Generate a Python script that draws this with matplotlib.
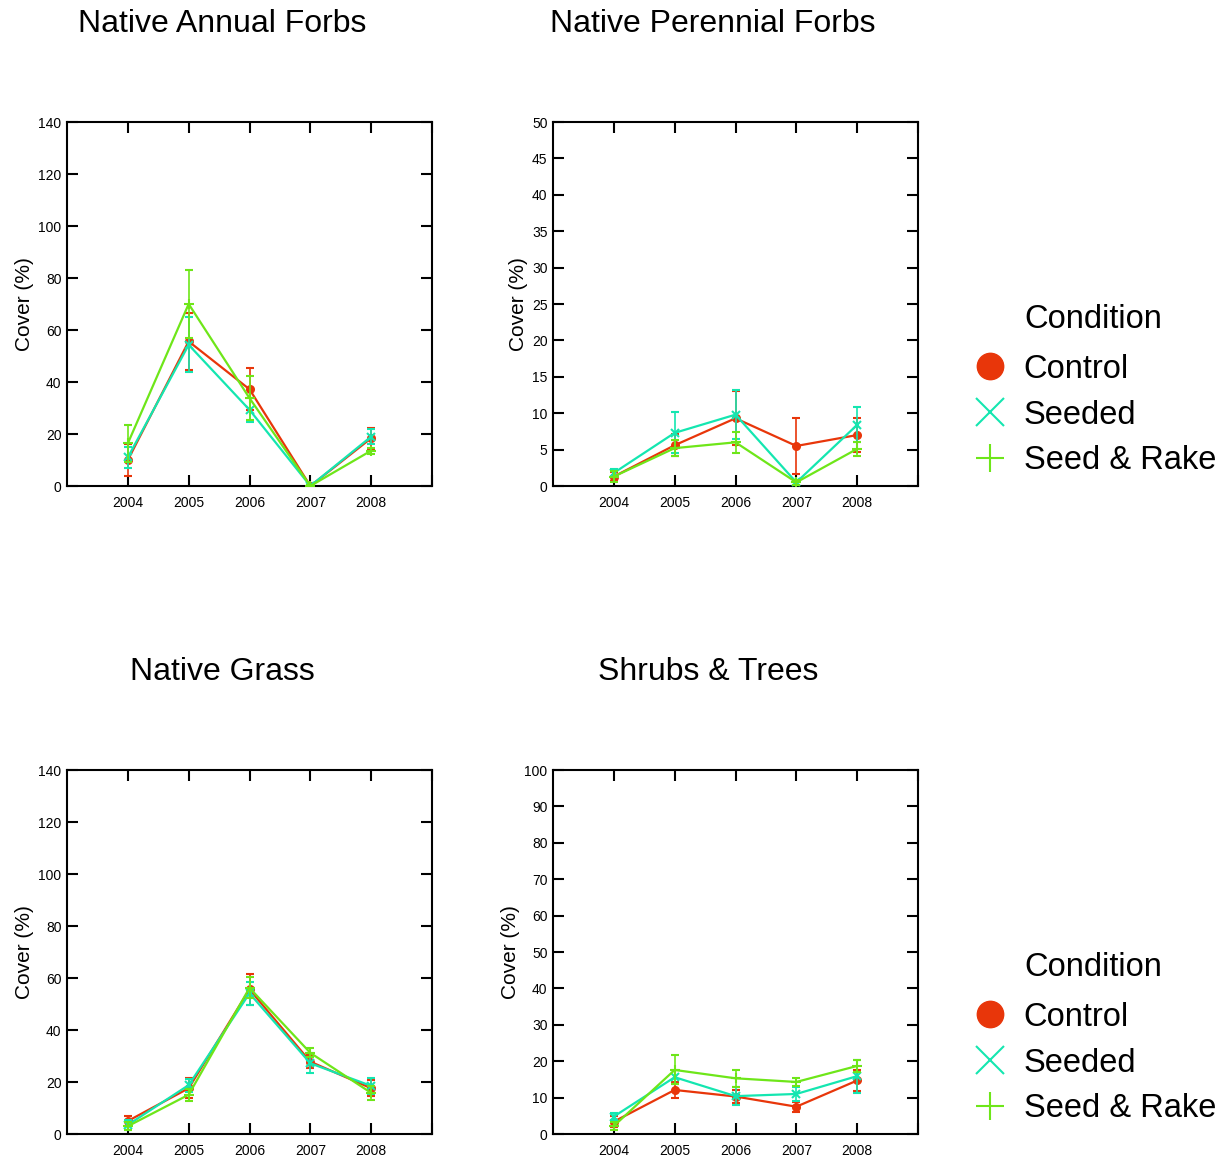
import numpy as np
import matplotlib
matplotlib.use('Agg')
import matplotlib.pyplot as plt
from matplotlib.lines import Line2D

plt.rcParams['font.family'] = ['Liberation Sans', 'DejaVu Sans']

#Datos
years = [2004, 2005, 2006, 2007, 2008]
conditions = ['Control', 'Seeded', 'Seed & Rake']

# Native Annual Forbs
naf_control = [10.0, 55.6, 37.2, 0.0, 18.4]
naf_control_err = [6.0, 11.0, 8.0, 0.3, 4.0]
naf_seeded = [11.0, 54.3, 29.3, 0.0, 19.0]
naf_seeded_err = [4.0, 10.6, 4.5, 0.3, 3.0]
naf_rake = [16.4, 70.0, 33.8, 0.0, 13.6]
naf_rake_err = [7.0, 13.0, 8.5, 0.3, 1.2]

# Native Perennial Forbs
npf_control = [1.3, 5.6, 9.3, 5.5, 7.0]
npf_control_err = [0.6, 1.5, 3.7, 3.9, 2.3]
npf_seeded = [1.8, 7.3, 9.8, 0.5, 8.4]
npf_seeded_err = [0.6, 2.8, 3.4, 0.3, 2.4]
npf_rake = [1.3, 5.2, 6.0, 0.5, 5.1]
npf_rake_err = [0.7, 1.1, 1.4, 0.3, 1.0]

# Native Grass
ng_control = [5.0, 17.6, 55.6, 27.8, 17.6]
ng_control_err = [2.0, 3.8, 6.0, 2.5, 3.0]
ng_seeded = [3.5, 18.8, 54.1, 27.2, 18.5]
ng_seeded_err = [2.0, 2.5, 4.5, 3.9, 3.0]
ng_rake = [3.0, 15.1, 56.2, 31.2, 15.8]
ng_rake_err = [1.5, 2.3, 4.0, 1.7, 2.6]

# Shrubs & Trees
st_control = [3.4, 12.1, 10.3, 7.5, 14.7]
st_control_err = [1.5, 2.3, 1.8, 1.4, 2.9]
st_seeded = [4.8, 15.6, 10.4, 11.0, 15.9]
st_seeded_err = [1.0, 2.0, 2.5, 2.0, 4.5]
st_rake = [2.2, 17.6, 15.3, 14.3, 18.7]
st_rake_err = [1.0, 4.0, 2.3, 1.0, 1.6]

titles = ['Native Annual Forbs', 'Native Perennial Forbs', 'Native Grass', 'Shrubs & Trees']
ymax = [140, 50, 140, 100]
ystep = [20, 5, 20, 10]

colores = ['#E8360A', '#14E6B0', '#6EE619']
marcadores = ['o', 'x', '+']
tamanos = [5, 6, 7]

paneles = [
    [(naf_control, naf_control_err), (naf_seeded, naf_seeded_err), (naf_rake, naf_rake_err)],
    [(npf_control, npf_control_err), (npf_seeded, npf_seeded_err), (npf_rake, npf_rake_err)],
    [(ng_control, ng_control_err), (ng_seeded, ng_seeded_err), (ng_rake, ng_rake_err)],
    [(st_control, st_control_err), (st_seeded, st_seeded_err), (st_rake, st_rake_err)],
]

W, H = 1225, 1160
fig = plt.figure(figsize=(W/100, H/100), dpi=100)

# posiciones en pixeles: (izq, arriba)
cajas = [(67, 122), (553, 122), (67, 770), (553, 770)]
titulo_pos = [(222, 24), (713, 24), (222, 672), (708, 672)]
ylabel_x = [25, 518, 25, 510]
aw, ah = 365, 364

for i in range(4):
    x0, y0 = cajas[i]
    ax = fig.add_axes([x0/W, 1-(y0+ah)/H, aw/W, ah/H])
    for j in range(3):
        vals, errs = paneles[i][j]
        ax.errorbar(years, vals, yerr=errs, color=colores[j], marker=marcadores[j],
                    markersize=tamanos[j], markeredgewidth=1.5, linewidth=1.6,
                    elinewidth=1.2, capsize=3, capthick=1.2, zorder=3+j)
    ax.set_xlim(2003, 2009)
    ax.set_ylim(0, ymax[i])
    ax.set_xticks([2004, 2005, 2006, 2007, 2008, 2009])
    ax.set_xticklabels(['2004', '2005', '2006', '2007', '2008', ''])
    ax.set_yticks(np.arange(0, ymax[i]+1, ystep[i]))
    ax.tick_params(direction='in', length=8, width=1.5, top=True, right=True,
                   labelsize=10, pad=4)
    ax.tick_params(axis='x', pad=7)
    for s in ax.spines.values():
        s.set_linewidth(1.5)
    fig.text(titulo_pos[i][0]/W, 1-titulo_pos[i][1]/H, titles[i], fontsize=23,
             ha='center', va='center')
    fig.text(ylabel_x[i]/W, 1-(y0+ah/2)/H, 'Cover (%)', fontsize=15, rotation=90,
             ha='center', va='center')

# Leyendas
handles = [Line2D([], [], color=colores[0], marker='o', linestyle='none', markersize=19),
           Line2D([], [], color=colores[1], marker='x', linestyle='none', markersize=20,
                  markeredgewidth=1.5),
           Line2D([], [], color=colores[2], marker='+', linestyle='none', markersize=20,
                  markeredgewidth=1.5)]
for yc, ytit in [(415, 319), (1063, 967)]:
    fig.text(1024/W, 1-ytit/H, 'Condition', fontsize=23.5, ha='left', va='center')
    fig.legend(handles, conditions, loc='center left', bbox_to_anchor=(970/W, 1-yc/H),
               frameon=False, fontsize=23.5, handlelength=1.2, handletextpad=0.45,
               labelspacing=0.45, borderpad=0, borderaxespad=0)

fig.savefig('out.png', dpi=100)
